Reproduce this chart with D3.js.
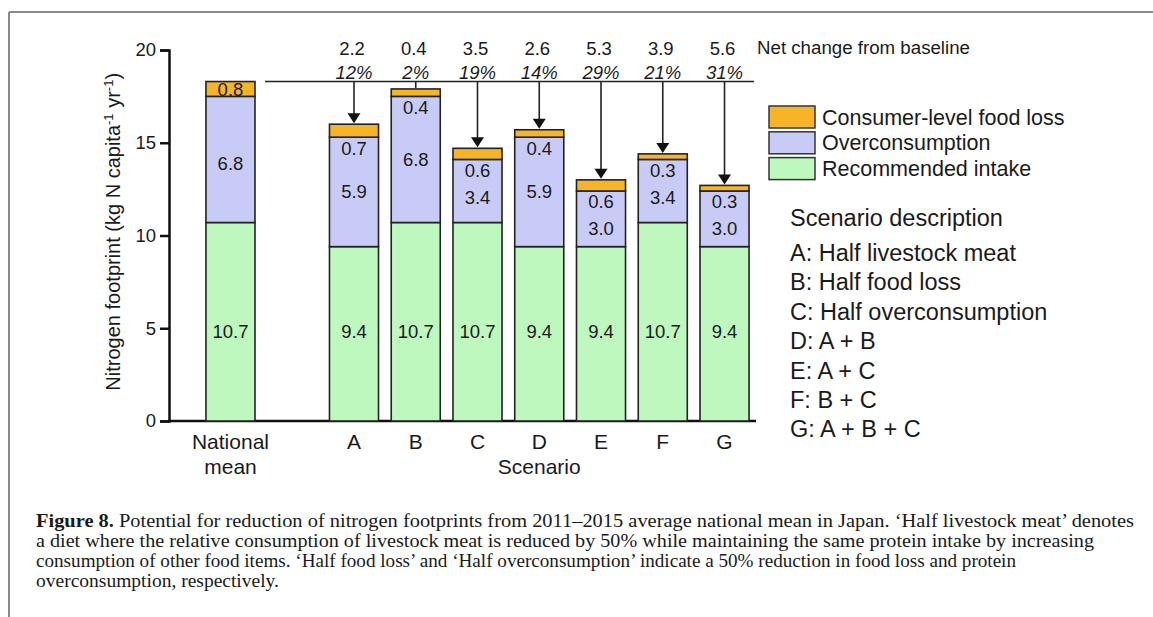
<!DOCTYPE html>
<html>
<head>
<meta charset="utf-8">
<script src="https://cdn.jsdelivr.net/npm/d3@7"></script>
<style>
  html, body { margin: 0; padding: 0; background: #fff; }
  svg { display: block; }
  text { font-family: Arial, "Liberation Sans", sans-serif; fill: #1a1a1a; }
  .cap { font-family: "Liberation Serif", "Times New Roman", serif; }
</style>
</head>
<body>
<script>
// ---------- data ----------
const categories = ["National mean", "A", "B", "C", "D", "E", "F", "G"];
const recommendedIntake = [10.7, 9.4, 10.7, 10.7, 9.4, 9.4, 10.7, 9.4];
const overconsumption   = [6.8, 5.9, 6.8, 3.4, 5.9, 3.0, 3.4, 3.0];
const foodLoss          = [0.8, 0.7, 0.4, 0.6, 0.4, 0.6, 0.3, 0.3];
const netChange    = [null, "2.2", "0.4", "3.5", "2.6", "5.3", "3.9", "5.6"];
const netChangePct = [null, "12%", "2%", "19%", "14%", "29%", "21%", "31%"];
const yTicks = [0, 5, 10, 15, 20];
const legendLabels = ["Consumer-level food loss", "Overconsumption", "Recommended intake"];
const legendColors = ["#F6B426", "#C9CBF7", "#BEF8BE"];
const scenarioTitle = "Scenario description";
const scenarioDescriptions = [
  "A: Half livestock meat",
  "B: Half food loss",
  "C: Half overconsumption",
  "D: A + B",
  "E: A + C",
  "F: B + C",
  "G: A + B + C"
];
const captionLines = [
  ["Figure 8.", " Potential for reduction of nitrogen footprints from 2011\u20132015 average national mean in Japan. \u2018Half livestock meat\u2019 denotes"],
  ["", "a diet where the relative consumption of livestock meat is reduced by 50% while maintaining the same protein intake by increasing"],
  ["", "consumption of other food items. \u2018Half food loss\u2019 and \u2018Half overconsumption\u2019 indicate a 50% reduction in food loss and protein"],
  ["", "overconsumption, respectively."]
];

// ---------- layout ----------
const W = 1153, H = 617;
const svg = d3.select("body").append("svg").attr("width", W).attr("height", H);

// frame
svg.append("line").attr("x1", 9).attr("x2", W).attr("y1", 12).attr("y2", 12)
  .attr("stroke", "#8a8a8a").attr("stroke-width", 2);
svg.append("line").attr("x1", 9).attr("x2", 9).attr("y1", 12).attr("y2", H)
  .attr("stroke", "#8a8a8a").attr("stroke-width", 2);

const y = d3.scaleLinear().domain([0, 20]).range([421, 50]);
const slots = [categories[0], "__gap__", ...categories.slice(1)];
const x = d3.scaleBand().domain(slots).range([199.6, 755.4])
  .paddingInner(0.206).paddingOuter(0.103);
const bw = x.bandwidth();
const cx = c => x(c) + bw / 2;

// y axis
const yAxis = svg.append("g").attr("transform", "translate(169,0)")
  .call(d3.axisLeft(y).tickValues(yTicks).tickSize(9).tickPadding(4).tickFormat(d3.format("d")));
yAxis.select(".domain").attr("stroke", "#111").attr("stroke-width", 2.5);
yAxis.selectAll(".tick line").attr("stroke", "#111").attr("stroke-width", 2.5);
yAxis.selectAll(".tick text").style("font-size", "18.5px").attr("fill", "#1a1a1a")
  .style("font-family", "Arial, 'Liberation Sans', sans-serif");

// x axis baseline
svg.append("line").attr("x1", 168).attr("x2", 756).attr("y1", y(0)).attr("y2", y(0))
  .attr("stroke", "#111").attr("stroke-width", 2.5);

// y title
svg.append("text")
  .attr("transform", `translate(120,${y(10.2)}) rotate(-90)`)
  .attr("text-anchor", "middle").style("font-size", "20px")
  .html('Nitrogen footprint (kg N capita<tspan dy="-7" font-size="13px">-1</tspan><tspan dy="7"> yr</tspan><tspan dy="-7" font-size="13px">-1</tspan><tspan dy="7">)</tspan>');

// bars
const rows = categories.map((c, i) => ({
  c, i, g: recommendedIntake[i], o: overconsumption[i], f: foodLoss[i]
}));
const barG = svg.append("g");
rows.forEach(r => {
  const segs = [
    { y0: 0, y1: r.g, col: legendColors[2] },
    { y0: r.g, y1: r.g + r.o, col: legendColors[1] },
    { y0: r.g + r.o, y1: r.g + r.o + r.f, col: legendColors[0] }
  ];
  barG.selectAll(null).data(segs).enter().append("rect")
    .attr("x", x(r.c)).attr("width", bw)
    .attr("y", d => y(d.y1)).attr("height", d => y(d.y0) - y(d.y1))
    .attr("fill", d => d.col).attr("stroke", "#222").attr("stroke-width", 1.6);
});

// bar labels
const lab = (xx, yy, t) => svg.append("text").attr("x", xx).attr("y", yy)
  .attr("text-anchor", "middle").attr("dominant-baseline", "central")
  .style("font-size", "18.5px").text(t);

rows.forEach(r => {
  const xc = cx(r.c);
  lab(xc, y(4.8), r.g.toFixed(1));
  if (r.i === 0) {
    lab(xc, (y(r.g) + y(r.g + r.o)) / 2 + 4, r.o.toFixed(1));
    lab(xc, (y(r.g + r.o) + y(r.g + r.o + r.f)) / 2 + 1, r.f.toFixed(1));
  } else {
    const fy = y(r.g + r.o) + 11;
    const mid = (y(r.g) + y(r.g + r.o)) / 2;
    lab(xc, fy, r.f.toFixed(1));
    lab(xc, Math.max(mid, fy + 27), r.o.toFixed(1));
  }
});

// net change annotations
const base = recommendedIntake[0] + overconsumption[0] + foodLoss[0];
svg.append("line").attr("x1", 265).attr("x2", 754).attr("y1", y(base)).attr("y2", y(base))
  .attr("stroke", "#222").attr("stroke-width", 1.6);
rows.slice(1).forEach(r => {
  const xc = cx(r.c);
  const top = y(r.g + r.o + r.f) - 1;
  const y0 = y(base);
  if (top - y0 > 14) {
    svg.append("line").attr("x1", xc).attr("x2", xc).attr("y1", y0).attr("y2", top - 9)
      .attr("stroke", "#222").attr("stroke-width", 1.6);
    svg.append("path")
      .attr("d", `M${xc - 6.5},${top - 10} L${xc + 6.5},${top - 10} L${xc},${top} Z`)
      .attr("fill", "#111");
  } else {
    svg.append("line").attr("x1", xc).attr("x2", xc).attr("y1", y0).attr("y2", top)
      .attr("stroke", "#222").attr("stroke-width", 1.6);
  }
  svg.append("text").attr("x", xc - 2).attr("y", 48).attr("text-anchor", "middle")
    .attr("dominant-baseline", "central").style("font-size", "18.5px").text(netChange[r.i]);
  svg.append("text").attr("x", xc).attr("y", 72).attr("text-anchor", "middle")
    .attr("dominant-baseline", "central").style("font-size", "18.5px")
    .style("font-style", "italic").text(netChangePct[r.i]);
});
svg.append("text").attr("x", 757).attr("y", 47).attr("dominant-baseline", "central")
  .style("font-size", "18.7px").text("Net change from baseline");

// x labels
rows.forEach(r => {
  if (r.i === 0) {
    svg.append("text").attr("x", cx(r.c)).attr("y", 441).attr("text-anchor", "middle")
      .attr("dominant-baseline", "central").style("font-size", "21px").text("National");
    svg.append("text").attr("x", cx(r.c)).attr("y", 466).attr("text-anchor", "middle")
      .attr("dominant-baseline", "central").style("font-size", "21px").text("mean");
  } else {
    svg.append("text").attr("x", cx(r.c)).attr("y", 441).attr("text-anchor", "middle")
      .attr("dominant-baseline", "central").style("font-size", "21px").text(r.c);
  }
});
svg.append("text").attr("x", cx("D")).attr("y", 466).attr("text-anchor", "middle")
  .attr("dominant-baseline", "central").style("font-size", "21px").text("Scenario");

// legend
legendLabels.forEach((t, i) => {
  const ly = 106 + i * 25.8;
  svg.append("rect").attr("x", 769).attr("y", ly).attr("width", 46).attr("height", 22)
    .attr("fill", legendColors[i]).attr("stroke", "#333").attr("stroke-width", 1.5);
  svg.append("text").attr("x", 822).attr("y", ly + 11.5).attr("dominant-baseline", "central")
    .style("font-size", "21.5px").text(t);
});

// scenario description
svg.append("text").attr("x", 790).attr("y", 218).attr("dominant-baseline", "central")
  .style("font-size", "23.5px").text(scenarioTitle);
scenarioDescriptions.forEach((t, i) => {
  svg.append("text").attr("x", 790).attr("y", 253 + i * 29.4).attr("dominant-baseline", "central")
    .style("font-size", "23.5px").text(t);
});

// caption
const capLens = [1098, 1058, 980, null];
captionLines.forEach((ln, i) => {
  const t = svg.append("text").attr("class", "cap").attr("x", 36).attr("y", 527 + i * 20)
    .style("font-size", "19.5px");
  if (capLens[i]) t.attr("textLength", capLens[i]).attr("lengthAdjust", "spacingAndGlyphs");
  if (ln[0]) t.append("tspan").style("font-weight", "bold").text(ln[0]);
  t.append("tspan").attr("xml:space", "preserve").text(ln[1]);
});
</script>
</body>
</html>
